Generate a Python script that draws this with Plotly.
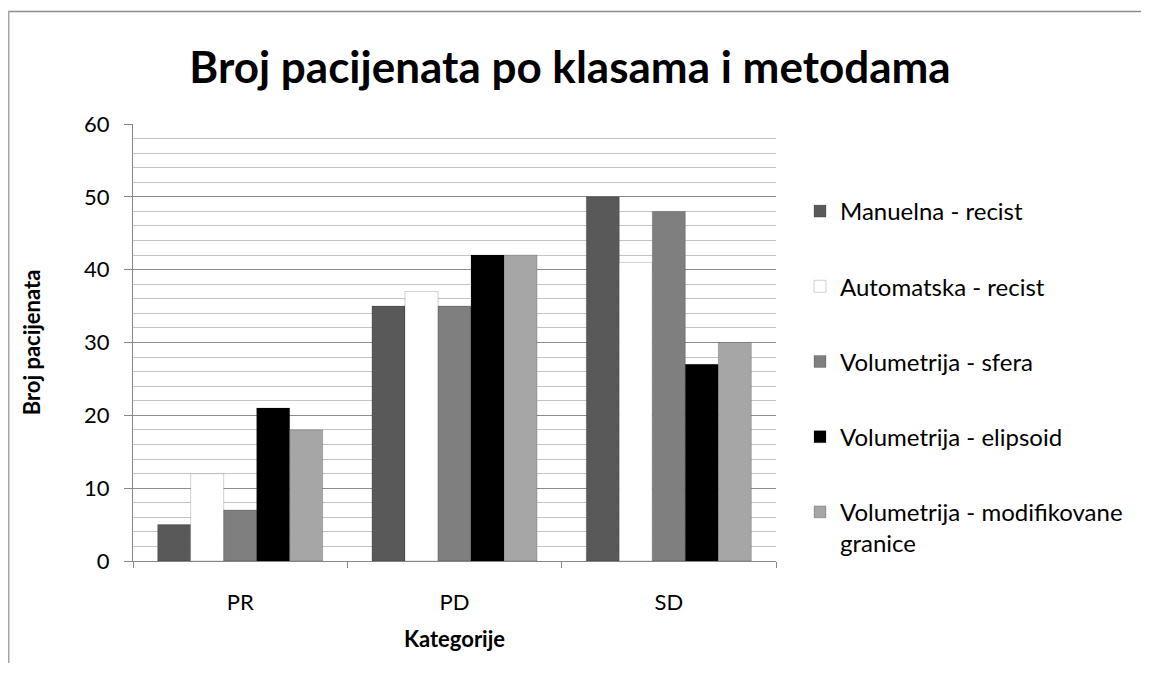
import plotly.graph_objects as go

categories = ["PR", "PD", "SD"]
series_names = [
    "Manuelna - recist",
    "Automatska - recist",
    "Volumetrija - sfera",
    "Volumetrija - elipsoid",
    "Volumetrija - modifikovane<br>granice",
]
manuelna = [5, 35, 50]
automatska = [12, 37, 41]
sfera = [7, 35, 48]
elipsoid = [21, 42, 27]
modifikovane = [18, 42, 30]
series_values = [manuelna, automatska, sfera, elipsoid, modifikovane]
colors = ["#595959", "#ffffff", "#7f7f7f", "#000000", "#a6a6a6"]

FONT = "Lato"
# page body has an 8px margin, so the figure is drawn 8px in from the top-left
W, H = 1133, 655
L, R, T, B = 125, 365, 116, 102
pw = W - L - R
ph = H - T - B

fig = go.Figure()
for i, (name, vals, col) in enumerate(zip(series_names, series_values, colors)):
    fig.add_trace(go.Bar(
        x=categories, y=vals, name=name,
        marker=dict(color=col, line=dict(color="rgba(0,0,0,0.18)", width=1)),
        legendgroup=f"g{i}",
    ))


def px_x(x):
    return (x - L) / pw


def px_y(y):
    return (H - B - y) / ph


fig.update_layout(
    width=W, height=H,
    margin=dict(l=L, r=R, t=T, b=B),
    paper_bgcolor="white", plot_bgcolor="white",
    barmode="group", bargap=0.23, bargroupgap=0,
    font=dict(family=FONT, size=22, color="#000000"),
    title=dict(text="<b>Broj pacijenata po klasama i metodama</b>",
               font=dict(family=FONT, size=44, color="#000000"),
               x=562 / W, xanchor="center", y=1 - 60 / H, yanchor="middle"),
    legend=dict(x=px_x(792), xanchor="left", y=px_y(181), yanchor="top",
                font=dict(family=FONT, size=24), tracegroupgap=41, valign="top",
                bgcolor="rgba(0,0,0,0)"),
    xaxis=dict(
        showline=True, linecolor="#868686", linewidth=1,
        ticks="outside", ticklen=6, tickcolor="#868686",
        tickson="boundaries", showgrid=False,
        tickfont=dict(family=FONT, size=22), ticklabelstandoff=22,
        title=dict(text="<b>Kategorije</b>", font=dict(family=FONT, size=22), standoff=17),
    ),
    yaxis=dict(
        range=[0, 60], dtick=10, showline=True, linecolor="#868686", linewidth=1,
        ticks="outside", ticklen=8, tickcolor="#868686",
        showgrid=True, gridcolor="#8c8c8c", gridwidth=1,
        minor=dict(dtick=2, showgrid=True, gridcolor="#c4c4c4", gridwidth=1),
        tickfont=dict(family=FONT, size=22), ticklabelstandoff=10,
        title=dict(text="<b>Broj pacijenata</b>", font=dict(family=FONT, size=22), standoff=37),
        zeroline=False,
    ),
    shapes=[
        dict(type="line", xref="paper", yref="paper",
             x0=px_x(0), x1=px_x(W + 5), y0=px_y(3.5), y1=px_y(3.5),
             line=dict(color="#8c8c8c", width=1.5)),
        dict(type="line", xref="paper", yref="paper",
             x0=px_x(0.75), x1=px_x(0.75), y0=px_y(3), y1=px_y(H + 5),
             line=dict(color="#a6a6a6", width=1.5)),
    ],
)

fig.write_html("out.html")
